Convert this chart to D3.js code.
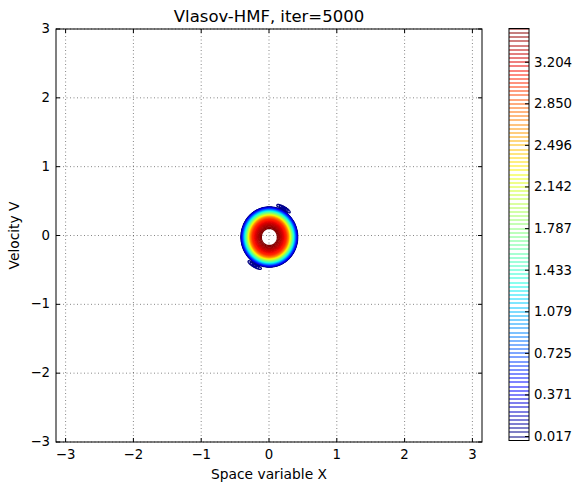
<!DOCTYPE html>
<html lang="en">
<head>
<meta charset="UTF-8">
<title>Vlasov-HMF, iter=5000</title>
<script src="https://d3js.org/d3.v7.min.js"></script>
<style>
    body { margin: 0; padding: 0; background: #fff; }
    svg { display: block; font-family: "DejaVu Sans", sans-serif; }
    .grid line { stroke: #000; stroke-width: 0.6; stroke-dasharray: 1,2.5; stroke-opacity: 0.8; }
    .frame { fill: none; stroke: #000; stroke-width: 1; }
    .tick line { stroke: #000; stroke-width: 1; }
</style>
</head>
<body>
<svg width="577" height="486"></svg>
<script>
// axis ticks
const xTicks = [-3, -2, -1, 0, 1, 2, 3];
const yTicks = [-3, -2, -1, 0, 1, 2, 3];
const cbTicks = [0.017, 0.371, 0.725, 1.079, 1.433, 1.787, 2.142, 2.496, 2.850, 3.204];

// contour levels (evenly spaced, labels every 10th)
const levelStart = 0.017, levelStep = 0.03541, levelCount = 99;
const cbRange = [-0.017, 3.491];

// radial profile of the ring (normalised elliptic radius -> f)
const ringRho = [0, 0.24, 0.30, 0.42, 0.57, 0.65, 0.71, 0.77, 0.84, 0.92, 0.98, 1.0, 2.0];
const ringF   = [3.56, 3.53, 3.47, 3.30, 3.05, 2.70, 2.25, 1.80, 1.30, 0.65, 0.12, 0, 0];
const ringCenter = [0.005, -0.022];
const ringRadius = [0.418, 0.437];

// thin filaments trailing the ring (angle in deg)
const filAngle  = [62, 241];
const filSpread = [19, 19];
const filRho    = [1.09, 1.09];
const filWidth  = [0.055, 0.055];
const filAmp    = [0.105, 0.105];

const svg = d3.select("svg");
const M = { left: 56, right: 482, top: 29, bottom: 442 };

const x = d3.scaleLinear().domain([-Math.PI, Math.PI]).range([M.left, M.right]);
const y = d3.scaleLinear().domain([-3, 3]).range([M.bottom, M.top]);

// jet colormap
const jetR = d3.scaleLinear().domain([0, 0.35, 0.66, 0.89, 1]).range([0, 0, 1, 1, 0.5]).clamp(true);
const jetG = d3.scaleLinear().domain([0, 0.125, 0.375, 0.64, 0.91, 1]).range([0, 0, 1, 1, 0, 0]).clamp(true);
const jetB = d3.scaleLinear().domain([0, 0.11, 0.34, 0.65, 1]).range([0.5, 1, 1, 0, 0]).clamp(true);
const jet = t => d3.rgb(jetR(t) * 255, jetG(t) * 255, jetB(t) * 255).formatHex();

const levels = d3.range(levelCount).map(k => levelStart + k * levelStep);
const norm = d3.scaleLinear().domain([levels[0], levels[levels.length - 1]]).range([0, 1]);

// grid
const gridG = svg.append("g").attr("class", "grid");
gridG.selectAll(".gx").data(xTicks).enter().append("line")
    .attr("x1", d => x(d)).attr("x2", d => x(d)).attr("y1", M.top).attr("y2", M.bottom);
gridG.selectAll(".gy").data(yTicks).enter().append("line")
    .attr("y1", d => y(d)).attr("y2", d => y(d)).attr("x1", M.left).attr("x2", M.right);

// field on a local grid
const n = 260, lo = -0.8, hi = 0.8, cell = (hi - lo) / (n - 1);
const profile = d3.scaleLinear().domain(ringRho).range(ringF).clamp(true);
const values = new Float64Array(n * n);
for (let j = 0; j < n; j++) {
    for (let i = 0; i < n; i++) {
        const px = lo + i * cell, pv = lo + j * cell;
        const dx = (px - ringCenter[0]) / ringRadius[0], dv = (pv - ringCenter[1]) / ringRadius[1];
        const rho = Math.hypot(dx, dv);
        const ang = Math.atan2(dv, dx) * 180 / Math.PI;
        let f = profile(rho);
        for (let k = 0; k < filAngle.length; k++) {
            let da = ang - filAngle[k];
            da = ((da + 540) % 360) - 180;
            if (Math.abs(da) >= filSpread[k]) continue;
            const w = Math.pow(Math.cos(Math.PI / 2 * da / filSpread[k]), 2);
            const r = (rho - filRho[k]) / filWidth[k];
            if (Math.abs(r) < 1) f += filAmp[k] * w * (1 - r * r);
        }
        values[i + j * n] = f;
    }
}

const contours = d3.contours().size([n, n]).thresholds(levels)(values);
const proj = d3.geoTransform({
    point(gx, gy) {
        this.stream.point(x(lo + (gx - 0.5) * cell), y(lo + (gy - 0.5) * cell));
    }
});
const path = d3.geoPath(proj);

svg.append("g").attr("class", "contours")
    .selectAll("path").data(contours).enter().append("path")
    .attr("d", path)
    .attr("fill", "none")
    .attr("stroke", d => jet(norm(d.value)))
    .attr("stroke-width", 1.3);

// frame
svg.append("rect").attr("class", "frame")
    .attr("x", M.left).attr("y", M.top)
    .attr("width", M.right - M.left).attr("height", M.bottom - M.top);

// ticks (inward, all sides)
const tk = svg.append("g").attr("class", "tick");
xTicks.forEach(t => {
    tk.append("line").attr("x1", x(t)).attr("x2", x(t)).attr("y1", M.bottom).attr("y2", M.bottom - 4);
    tk.append("line").attr("x1", x(t)).attr("x2", x(t)).attr("y1", M.top).attr("y2", M.top + 4);
});
yTicks.forEach(t => {
    tk.append("line").attr("y1", y(t)).attr("y2", y(t)).attr("x1", M.left).attr("x2", M.left + 4);
    tk.append("line").attr("y1", y(t)).attr("y2", y(t)).attr("x1", M.right).attr("x2", M.right - 4);
});

const fmt = v => (v < 0 ? "\u2212" : "") + Math.abs(v);
svg.append("g").selectAll("text").data(xTicks).enter().append("text")
    .attr("x", x).attr("y", M.bottom + 16.5)
    .attr("text-anchor", "middle").attr("font-size", 13.3)
    .text(fmt);
svg.append("g").selectAll("text").data(yTicks).enter().append("text")
    .attr("x", M.left - 6).attr("y", d => y(d) + 4)
    .attr("text-anchor", "end").attr("font-size", 13.3)
    .text(fmt);

// title & labels
svg.append("text").attr("x", (M.left + M.right) / 2).attr("y", 22)
    .attr("text-anchor", "middle").attr("font-size", 16.5)
    .text("Vlasov-HMF, iter=5000");
svg.append("text").attr("x", (M.left + M.right) / 2).attr("y", 479)
    .attr("text-anchor", "middle").attr("font-size", 13.8)
    .text("Space variable X");
svg.append("text").attr("transform", `translate(19,${(M.top + M.bottom) / 2}) rotate(-90)`)
    .attr("text-anchor", "middle").attr("font-size", 13.8)
    .text("Velocity V");

// colorbar (one line per contour level)
const cb = { left: 509, right: 529, top: 28.5, bottom: 440.5 };
const cy = d3.scaleLinear().domain(cbRange).range([cb.bottom, cb.top]);
svg.append("g")
    .selectAll("line").data(levels).enter().append("line")
    .attr("x1", cb.left).attr("x2", cb.right)
    .attr("y1", d => Math.round(cy(d))).attr("y2", d => Math.round(cy(d)))
    .attr("stroke", d => jet(norm(d)))
    .attr("stroke-width", 1);
svg.append("rect").attr("class", "frame")
    .attr("x", cb.left).attr("y", cb.top)
    .attr("width", cb.right - cb.left).attr("height", cb.bottom - cb.top);
const cbt = svg.append("g").attr("class", "tick");
cbTicks.forEach(t => {
    cbt.append("line").attr("x1", cb.right).attr("x2", cb.right - 4).attr("y1", cy(t)).attr("y2", cy(t));
});
svg.append("g").selectAll("text").data(cbTicks).enter().append("text")
    .attr("x", cb.right + 5).attr("y", d => cy(d) + 4.5)
    .attr("font-size", 13.3)
    .text(d3.format(".3f"));
</script>
</body>
</html>
